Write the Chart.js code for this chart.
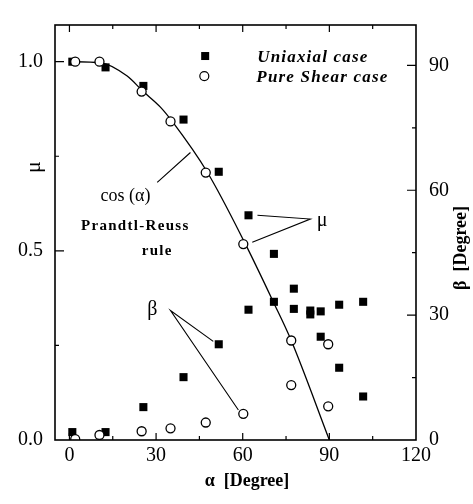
<!DOCTYPE html>
<html>
<head>
<meta charset="utf-8">
<script src="https://cdn.jsdelivr.net/npm/chart.js@4.4.0/dist/chart.umd.min.js"></script>
<style>
  html, body { margin: 0; padding: 0; background: #fff; }
  canvas { display: block; }
</style>
</head>
<body>
<canvas id="grafico" width="473" height="504"></canvas>
<script>
// alpha [degree]; mu on the left axis, beta [degree] on the right axis
var alphaUniaxial = [1, 12.5, 25.6, 39.5, 51.7, 62, 70.8, 77.7, 83.4, 87, 93.4, 101.7];
var muUniaxial    = [1.0, 0.985, 0.936, 0.847, 0.709, 0.594, 0.492, 0.40, 0.332, 0.273, 0.191, 0.115];
var betaUniaxial  = [1.9, 1.9, 7.9, 15.1, 23.0, 31.3, 33.2, 31.5, 31.1, 30.9, 32.5, 33.2];

var alphaShear = [2, 10.4, 25, 35, 47.2, 60.2, 76.8, 89.6];
var muShear    = [1.0, 1.0, 0.921, 0.842, 0.707, 0.518, 0.263, 0.089];
var betaShear  = [0.2, 1.2, 2.1, 2.8, 4.2, 6.3, 13.2, 23.0];

// Prandtl-Reuss rule, cos(alpha)
var alphaRule = [0, 11, 20, 25.3, 31.5, 35.6, 47.8, 60.6, 70.6, 76.8, 90];
var muRule    = [1.0, 0.997, 0.962, 0.923, 0.880, 0.842, 0.707, 0.523, 0.365, 0.263, 0];

var alphaTicks = [0, 30, 60, 90, 120];
var muTicks = [0, 0.5, 1.0];
var betaTicks = [0, 30, 60, 90];

var serif = "'Liberation Serif', 'Times New Roman', serif";

function pontos(xs, ys) {
  return xs.map(function(v, i) { return { x: v, y: ys[i] }; });
}

function quadrado(ctx, x, y) {
  ctx.fillRect(x - 4, y - 4, 8, 8);
}

function circulo(ctx, x, y) {
  ctx.beginPath();
  ctx.arc(x, y, 4.5, 0, Math.PI * 2);
  ctx.fillStyle = '#fff';
  ctx.fill();
  ctx.stroke();
  ctx.fillStyle = '#000';
}

// frame, inward ticks, titles and labels
var anotacoes = {
  id: 'anotacoes',
  afterDraw: function(chart) {
    var ctx = chart.ctx, a = chart.chartArea;
    var sx = chart.scales.x, smu = chart.scales.y, sb = chart.scales.y1;
    ctx.save();
    ctx.strokeStyle = '#000';
    ctx.fillStyle = '#000';
    ctx.lineWidth = 1.6;
    ctx.strokeRect(a.left, a.top, a.right - a.left, a.bottom - a.top);

    ctx.lineWidth = 1.2;
    ctx.beginPath();
    [0, 15, 30, 45, 60, 75, 90, 105].forEach(function(v) {
      var px = sx.getPixelForValue(v);
      var len = v % 30 === 0 ? 7 : 4;
      ctx.moveTo(px, a.bottom); ctx.lineTo(px, a.bottom - len);
      ctx.moveTo(px, a.top); ctx.lineTo(px, a.top + len);
    });
    [0.25, 0.5, 0.75, 1.0].forEach(function(v) {
      var py = smu.getPixelForValue(v);
      var len = v === 0.5 || v === 1.0 ? 9 : 4;
      ctx.moveTo(a.left, py); ctx.lineTo(a.left + len, py);
    });
    [15, 30, 45, 60, 75, 90].forEach(function(v) {
      var py = sb.getPixelForValue(v);
      var len = v % 30 === 0 ? 9 : 4;
      ctx.moveTo(a.right, py); ctx.lineTo(a.right - len, py);
    });
    ctx.stroke();

    // axis titles
    ctx.textAlign = 'center';
    ctx.textBaseline = 'middle';
    ctx.font = 'bold 18px ' + serif;
    ctx.fillText('\u03b1  [Degree]', 247, 481);
    ctx.save();
    ctx.translate(34, 167);
    ctx.rotate(-Math.PI / 2);
    ctx.font = '22px ' + serif;
    ctx.fillText('\u03bc', 0, 0);
    ctx.restore();
    ctx.save();
    ctx.translate(461, 248);
    ctx.rotate(-Math.PI / 2);
    ctx.font = 'bold 18px ' + serif;
    ctx.fillText('\u03b2  [Degree]', 0, 0);
    ctx.restore();

    // legend
    quadrado(ctx, sx.getPixelForValue(47), smu.getPixelForValue(1.015));
    circulo(ctx, sx.getPixelForValue(46.7), smu.getPixelForValue(0.962));
    ctx.textAlign = 'left';
    ctx.font = 'italic bold 17px ' + serif;
    ctx.letterSpacing = '1.2px';
    ctx.fillText('Uniaxial case', sx.getPixelForValue(65), smu.getPixelForValue(1.012));
    ctx.fillText('Pure Shear case', sx.getPixelForValue(64.7), smu.getPixelForValue(0.958));

    // labels on the curves
    ctx.textAlign = 'center';
    ctx.letterSpacing = '0px';
    ctx.font = '18px ' + serif;
    ctx.fillText('cos (\u03b1)', sx.getPixelForValue(19.4), smu.getPixelForValue(0.643));
    ctx.font = 'bold 15px ' + serif;
    ctx.letterSpacing = '1.3px';
    ctx.fillText('Prandtl-Reuss', sx.getPixelForValue(22.8), smu.getPixelForValue(0.566));
    ctx.fillText('rule', sx.getPixelForValue(30.4), smu.getPixelForValue(0.5));
    ctx.letterSpacing = '0px';
    ctx.font = '20px ' + serif;
    ctx.fillText('\u03bc', sx.getPixelForValue(87.5), smu.getPixelForValue(0.579));
    ctx.fillText('\u03b2', sx.getPixelForValue(28.7), sb.getPixelForValue(31.3));

    // leader lines
    ctx.lineWidth = 1.1;
    ctx.beginPath();
    ctx.moveTo(sx.getPixelForValue(30.4), smu.getPixelForValue(0.681));
    ctx.lineTo(sx.getPixelForValue(41.9), smu.getPixelForValue(0.76));
    ctx.moveTo(sx.getPixelForValue(65.1), smu.getPixelForValue(0.594));
    ctx.lineTo(sx.getPixelForValue(83.4), smu.getPixelForValue(0.584));
    ctx.lineTo(sx.getPixelForValue(63.3), smu.getPixelForValue(0.523));
    ctx.moveTo(sx.getPixelForValue(49.8), sb.getPixelForValue(23.7));
    ctx.lineTo(sx.getPixelForValue(35), sb.getPixelForValue(31.1));
    ctx.lineTo(sx.getPixelForValue(58.5), sb.getPixelForValue(7.2));
    ctx.stroke();
    ctx.restore();
  }
};

var ctx = document.getElementById('grafico');

var myChart = new Chart(ctx, {
  type: 'scatter',
  data: {
    datasets: [{
      label: 'Prandtl-Reuss rule',
      data: pontos(alphaRule, muRule),
      yAxisID: 'y',
      showLine: true,
      borderColor: '#000',
      borderWidth: 1.3,
      pointRadius: 0,
      cubicInterpolationMode: 'monotone',
      order: 5
    }, {
      label: 'Uniaxial case \u03bc',
      data: pontos(alphaUniaxial, muUniaxial),
      yAxisID: 'y',
      pointStyle: 'rect',
      pointRadius: 5.7,
      pointBackgroundColor: '#000',
      pointBorderWidth: 0,
      order: 2
    }, {
      label: 'Uniaxial case \u03b2',
      data: pontos(alphaUniaxial, betaUniaxial),
      yAxisID: 'y1',
      pointStyle: 'rect',
      pointRadius: 5.7,
      pointBackgroundColor: '#000',
      pointBorderWidth: 0,
      order: 2
    }, {
      label: 'Pure Shear case \u03bc',
      data: pontos(alphaShear, muShear),
      yAxisID: 'y',
      pointStyle: 'circle',
      pointRadius: 4.5,
      pointBackgroundColor: '#fff',
      pointBorderColor: '#000',
      pointBorderWidth: 1.3,
      order: 1
    }, {
      label: 'Pure Shear case \u03b2',
      data: pontos(alphaShear, betaShear),
      yAxisID: 'y1',
      pointStyle: 'circle',
      pointRadius: 4.5,
      pointBackgroundColor: '#fff',
      pointBorderColor: '#000',
      pointBorderWidth: 1.3,
      order: 1
    }]
  },
  options: {
    responsive: false,
    animation: false,
    layout: { padding: { top: 10, left: 0, right: 0, bottom: 0 } },
    plugins: { legend: { display: false }, tooltip: { enabled: false } },
    scales: {
      x: {
        type: 'linear',
        min: -5,
        max: 120,
        afterBuildTicks: function(s) { s.ticks = alphaTicks.map(function(v) { return { value: v }; }); },
        afterFit: function(s) { s.height = 64; },
        grid: { display: false, drawTicks: false },
        border: { display: false },
        ticks: { color: '#000', padding: 4, font: { family: serif, size: 20 } }
      },
      y: {
        position: 'left',
        min: 0,
        max: 1.097,
        afterBuildTicks: function(s) { s.ticks = muTicks.map(function(v) { return { value: v }; }); },
        afterFit: function(s) { s.width = 55; },
        grid: { display: false, drawTicks: false },
        border: { display: false },
        ticks: {
          color: '#000', padding: 12, font: { family: serif, size: 20 },
          callback: function(v) { return v.toFixed(1); }
        }
      },
      y1: {
        position: 'right',
        min: 0,
        max: 99.7,
        afterBuildTicks: function(s) { s.ticks = betaTicks.map(function(v) { return { value: v }; }); },
        afterFit: function(s) { s.width = 57; },
        grid: { display: false, drawTicks: false },
        border: { display: false },
        ticks: { color: '#000', padding: 13, font: { family: serif, size: 20 } }
      }
    }
  },
  plugins: [anotacoes]
});
</script>
</body>
</html>
